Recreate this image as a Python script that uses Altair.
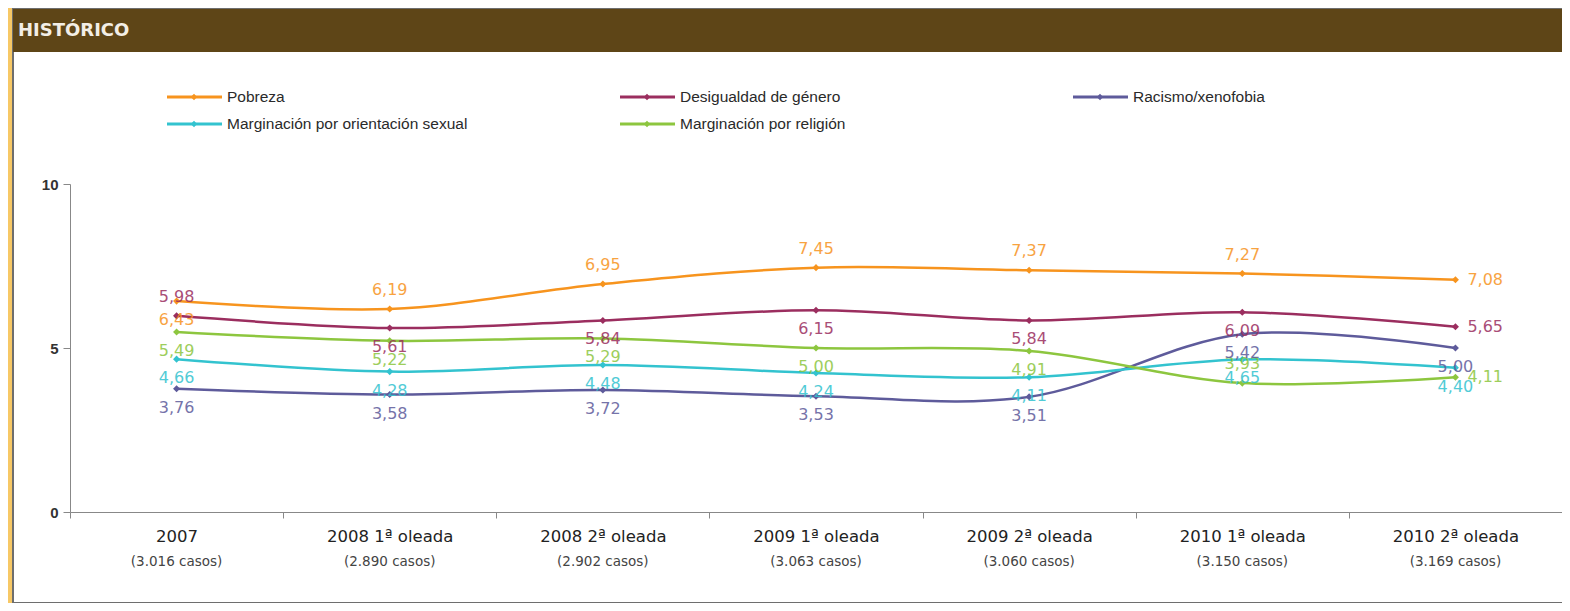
import altair as alt
import pandas as pd

# ---- data ----
periodos = ["2007", "2008 1ª oleada", "2008 2ª oleada", "2009 1ª oleada",
            "2009 2ª oleada", "2010 1ª oleada", "2010 2ª oleada"]
casos = ["(3.016 casos)", "(2.890 casos)", "(2.902 casos)", "(3.063 casos)",
         "(3.060 casos)", "(3.150 casos)", "(3.169 casos)"]
series = ["Pobreza", "Desigualdad de género", "Racismo/xenofobia",
          "Marginación por orientación sexual", "Marginación por religión"]
pobreza = [6.43, 6.19, 6.95, 7.45, 7.37, 7.27, 7.08]
desigualdad = [5.98, 5.61, 5.84, 6.15, 5.84, 6.09, 5.65]
racismo = [3.76, 3.58, 3.72, 3.53, 3.51, 5.42, 5.00]
orientacion = [4.66, 4.28, 4.48, 4.24, 4.11, 4.65, 4.40]
religion = [5.49, 5.22, 5.29, 5.00, 4.91, 3.93, 4.11]
colores = ["#F7941E", "#9B2E5F", "#5E5B9B", "#33C3CF", "#8DC63F"]

valores = [pobreza, desigualdad, racismo, orientacion, religion]
rows = []
for s, vals in zip(series, valores):
    for p, v in zip(periodos, vals):
        rows.append({"serie": s, "periodo": p, "valor": v,
                     "etiqueta": f"{v:.2f}".replace(".", ",")})
df = pd.DataFrame(rows)

first, last = periodos[0], periodos[-1]


def placement(r):
    if r["periodo"] == last and r["serie"] in (series[0], series[1], series[4]):
        return "right"
    if r["serie"] == series[0] and r["periodo"] != first:
        return "above"
    if r["serie"] == series[1] and r["periodo"] == first:
        return "above"
    if r["serie"] == series[4] and r["periodo"] == periodos[5]:
        return "above"
    return "below"


df["pos"] = df.apply(placement, axis=1)
df_casos = pd.DataFrame({"periodo": periodos, "casos": casos})

FONT = "Liberation Sans"
WIDE = "DejaVu Sans"
W, H = 1492, 328
color_scale = alt.Scale(domain=series, range=colores)
one = pd.DataFrame({"a": [0]})

xenc = alt.X("periodo:N", sort=periodos, bandPosition=0.5,
             scale=alt.Scale(type="band", paddingInner=0, paddingOuter=0),
             axis=alt.Axis(title=None, labelAngle=0, tickBand="extent", zindex=1,
                           labelFont=WIDE, labelFontSize=16.5, labelColor="#222",
                           labelPadding=10, tickSize=6, tickColor="#888",
                           domainColor="#888", labelLimit=300))
yenc = alt.Y("valor:Q", scale=alt.Scale(domain=[0, 10]),
             axis=alt.Axis(title=None, values=[0, 5, 10], grid=False, zindex=1,
                           labelFont=FONT, labelFontSize=15, labelFontWeight="bold",
                           labelColor="#333", tickSize=7, tickColor="#888",
                           domainColor="#888", labelPadding=5))
cenc = alt.Color("serie:N", scale=color_scale, legend=None)

# ---- decoration ----
panel = alt.Chart(one).mark_rect(fill="white", stroke="#6E6E6E", strokeWidth=2).encode(
    x=alt.value(-57), x2=alt.value(W + 2), y=alt.value(-176), y2=alt.value(H + 91))
header = alt.Chart(one).mark_rect(fill="#5E4517").encode(
    x=alt.value(-57), x2=alt.value(W + 2), y=alt.value(-175), y2=alt.value(-132))
title = alt.Chart(one).mark_text(text="HISTÓRICO", font=WIDE, fontSize=18,
                                 fontWeight="bold", color="#F3EEE6", align="left",
                                 baseline="middle").encode(
    x=alt.value(-52), y=alt.value(-153))

legend_layers = []
for i, (s, c) in enumerate(zip(series, colores)):
    col, row = i % 3, i // 3
    x0 = 97 + 453 * col
    y0 = -87 + 27 * row
    legend_layers.append(alt.Chart(one).mark_rule(color=c, strokeWidth=3).encode(
        x=alt.value(x0), x2=alt.value(x0 + 55), y=alt.value(y0)))
    legend_layers.append(alt.Chart(one).mark_point(shape="diamond", filled=True,
                                                   size=40, color=c, opacity=1).encode(
        x=alt.value(x0 + 27), y=alt.value(y0)))
    legend_layers.append(alt.Chart(one).mark_text(text=s, font=FONT, fontSize=15.5,
                                                  color="#2A2A2A", align="left",
                                                  baseline="middle").encode(
        x=alt.value(x0 + 60), y=alt.value(y0)))

# ---- data marks ----
base = alt.Chart(df)
lines = base.mark_line(interpolate="catmull-rom", strokeWidth=2.5).encode(
    x=xenc, y=yenc, color=cenc, detail="serie:N")
points = base.mark_point(shape="diamond", filled=True, size=50, opacity=1).encode(
    x=xenc, y=yenc, color=cenc)


def labels(pos, **kw):
    return base.transform_filter(alt.datum.pos == pos).mark_text(
        font=WIDE, fontSize=16, opacity=0.85, **kw).encode(
        x=xenc, y=yenc, color=cenc, text="etiqueta:N")


lab_above = labels("above", dy=-19, baseline="middle")
lab_below = labels("below", dy=19, baseline="middle")
lab_right = labels("right", dx=12, align="left", baseline="middle")

casos_txt = alt.Chart(df_casos).mark_text(font=WIDE, fontSize=13.5, color="#444",
                                          baseline="middle").encode(
    x=xenc, y=alt.value(H + 50), text="casos:N")

chart = alt.layer(panel, header, title, *legend_layers, lines, points,
                  lab_above, lab_below, lab_right, casos_txt).properties(
    width=W, height=H,
    padding={"left": 62, "top": 176, "right": 0, "bottom": 91},
    autosize=alt.AutoSizeParams(type="none"),
    background="#F7C866",
).configure_view(stroke=None)

chart.save("out.html", embed_options={"renderer": "svg", "actions": False})
